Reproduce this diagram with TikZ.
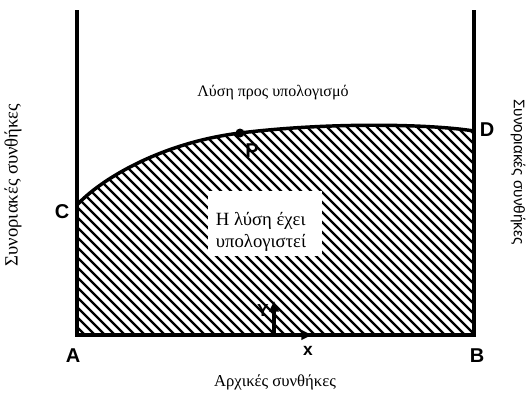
\documentclass[tikz,border=0pt]{standalone}
\usepackage{fontspec}
\setmainfont{Liberation Serif}
\setsansfont{Liberation Sans}
\usepackage{tikz}
\usetikzlibrary{arrows.meta}

\tikzset{
  corner/.style={font=\sffamily\bfseries\fontsize{15}{15}\selectfont},
  caption/.style={font=\fontsize{12}{14}\selectfont},
  hatch/.style={line width=1.7pt},
  border/.style={line width=2.6pt}
}

\begin{document}
\begin{tikzpicture}[x=0.75pt,y=-0.75pt]

\useasboundingbox (0,0) rectangle (528,396);

% Corner points
\coordinate (A) at (77,335);
\coordinate (B) at (474,335);
\coordinate (C) at (77,205);
\coordinate (D) at (474,131);
\coordinate (P) at (240,133);
\coordinate (Atop) at (77,10);
\coordinate (Btop) at (474,10);

% Hatched region (solution already computed)
\begin{scope}
\clip (C) .. controls (100,180) and (160,143) .. (P)
      .. controls (330,122) and (430,124) .. (D) -- (B) -- (A) -- cycle;
\foreach \i in {-300,-290,...,480}
  \draw[hatch] (\i,100) -- (\i+260,360);
\end{scope}

% White patch behind text
\fill[white] (208,191) rectangle (322,256);
\node[caption,font=\fontsize{14}{17}\selectfont,align=left] (done) at (261,232) {Η λύση έχει\\υπολογιστεί};

% Boundary curve
\draw[border] (C) .. controls (100,180) and (160,143) .. (P)
      .. controls (330,122) and (430,124) .. (D);

% Frame
\draw[border] (Atop) -- (A) -- (B) -- (Btop);
\fill (P) circle (4.5);

% Axes
\coordinate (O) at (274,335);
\coordinate (Ytip) at (274,301);
\coordinate (Xtip) at (312,335);
\draw[border,-{Triangle[length=8pt,width=7pt]}] (O) -- (Ytip);
\draw[border,-{Triangle[length=8pt,width=7pt]}] (O) -- (Xtip);

% Labels
\node[corner] (lA) at (73,356) {A};
\node[corner] (lB) at (477,356) {B};
\node[corner] (lC) at (62,212) {C};
\node[corner] (lD) at (487,130) {D};
\node[corner] (lP) at (252,151) {P};
\node[corner,font=\sffamily\bfseries\fontsize{13}{13}\selectfont] (lY) at (263,311) {Y};
\node[corner,font=\sffamily\bfseries\fontsize{13}{13}\selectfont] (lx) at (308,351) {x};

\node[caption] (todo) at (273,93) {Λύση προς υπολογισμό};
\node[caption,font=\fontsize{12.5}{14}\selectfont] (init) at (275,382) {Αρχικές συνθήκες};
\node[caption,font=\fontsize{14}{16}\selectfont,rotate=90] (bleft) at (13,185) {Συνοριακές συνθήκες};
\node[caption,font=\sffamily\fontsize{11.5}{13}\selectfont,rotate=-90,inner sep=0pt] (bright) at (518,172) {Συνοριακές συνθήκες};

\end{tikzpicture}
\end{document}
